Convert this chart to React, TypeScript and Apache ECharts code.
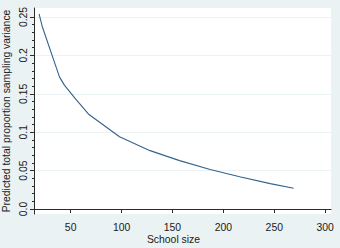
import React, { useEffect, useRef } from "react";
import * as echarts from "echarts";

const schoolSize = [19, 22, 39, 44, 55, 68, 98, 128, 157, 187, 216, 246, 269];
const variance = [0.254, 0.238, 0.172, 0.161, 0.143, 0.123, 0.094, 0.076, 0.063, 0.0515, 0.042, 0.033, 0.027];
const xTicks = [50, 100, 150, 200, 250, 300];
const yTicks = [0, 0.05, 0.1, 0.15, 0.2, 0.25];
const yMinorTicks = [0.01, 0.02, 0.03, 0.04, 0.06, 0.07, 0.08, 0.09, 0.11, 0.12, 0.13, 0.14, 0.16, 0.17, 0.18, 0.19, 0.21, 0.22, 0.23, 0.24];
const xTitle = "School size";
const yTitle = "Predicted total proportion sampling variance";

const FONT = "Liberation Sans, Arial, sans-serif";
const AXIS = "#2b2b2b";

export default function App() {
  const ref = useRef<HTMLDivElement>(null);
  useEffect(() => {
    const chart = echarts.init(ref.current!, null, { renderer: "svg" });
    const yMin = -0.0065;
    const yMax = 0.2617;
    chart.setOption({
      animation: false,
      backgroundColor: "#EAF2F3",
      grid: {
        left: 34,
        top: 8,
        right: 9,
        bottom: 34,
        show: true,
        backgroundColor: "#ffffff",
        borderWidth: 0,
      },
      xAxis: {
        type: "value",
        min: 14,
        max: 305.7,
        axisLine: { show: true, lineStyle: { color: AXIS, width: 1 } },
        axisTick: { show: true, length: 4, customValues: xTicks, lineStyle: { color: AXIS } },
        axisLabel: {
          customValues: xTicks,
          margin: 8,
          fontSize: 10.4,
          fontFamily: FONT,
          color: "#1a1a1a",
        },
        splitLine: { show: false },
      },
      yAxis: [
        {
          type: "value",
          min: yMin,
          max: yMax,
          axisLine: { show: true, onZero: false, lineStyle: { color: AXIS, width: 1 } },
          axisTick: { show: true, length: 4, customValues: yTicks, lineStyle: { color: AXIS } },
          axisLabel: {
            customValues: yTicks,
            rotate: 90,
            margin: 6,
            fontSize: 10.4,
            fontFamily: FONT,
            color: "#1a1a1a",
            formatter: (v: number) => (v === 0 ? "0.0" : String(Number(v.toFixed(2)))),
          },
          splitLine: {
            show: true,
            customValues: yTicks,
            lineStyle: { color: "#EAF2F3", width: 1 },
          },
        },
        {
          type: "value",
          min: yMin,
          max: yMax,
          position: "left",
          axisLine: { show: false },
          axisTick: { show: true, length: 2, customValues: yMinorTicks, lineStyle: { color: AXIS } },
          axisLabel: { show: false },
          splitLine: { show: false },
        },
      ],
      series: [
        {
          type: "line",
          data: schoolSize.map((x, i) => [x, variance[i]]),
          showSymbol: false,
          symbol: "none",
          lineStyle: { color: "#34628C", width: 1.1 },
        },
      ],
      graphic: [
        {
          type: "text",
          x: 173.5,
          y: 239,
          style: {
            text: xTitle,
            fontSize: 10.4,
            fontFamily: FONT,
            fill: "#1a1a1a",
            align: "center",
            verticalAlign: "middle",
          },
        },
        {
          type: "text",
          x: 6,
          y: 111,
          rotation: Math.PI / 2,
          style: {
            text: yTitle,
            fontSize: 10.4,
            fontFamily: FONT,
            fill: "#1a1a1a",
            align: "center",
            verticalAlign: "middle",
          },
        },
      ],
    });
    return () => chart.dispose();
  }, []);
  return <div ref={ref} style={{ width: 340, height: 248, position: "absolute", left: 0, top: 0 }} />;
}
